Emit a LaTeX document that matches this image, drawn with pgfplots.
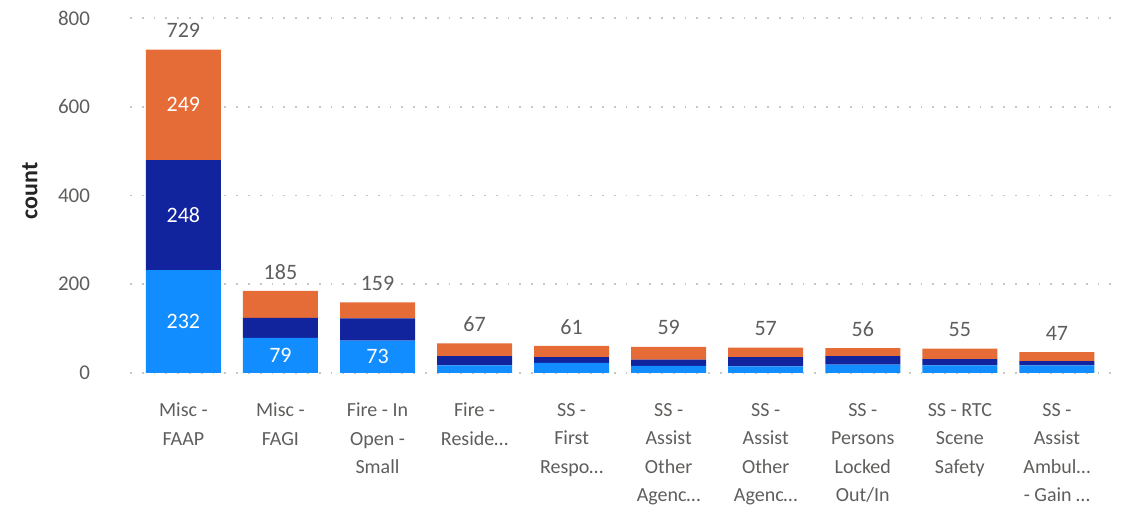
\documentclass[border=0pt]{standalone}
\usepackage{fontspec}
\setmainfont{Carlito}
\usepackage{pgfplots}
\pgfplotsset{compat=1.18}
\usepackage{pgfplotstable}

\definecolor{lblue}{HTML}{118DFF}
\definecolor{dblue}{HTML}{12239E}
\definecolor{orng}{HTML}{E66C37}
\definecolor{txtgray}{HTML}{605E5C}
\definecolor{dark}{HTML}{252423}

% segments: a = bottom (light blue), b = middle (dark blue), c = top (orange), t = total
% la, lb, lc = value shown inside the segment (0 = none)
\pgfplotstableread{
x a b c t la lb lc
0 232 248 249 729 232 248 249
1 79 45 61 185 79 0 0
2 73 50 36 159 73 0 0
3 17 21 29 67 0 0 0
4 23 13 25 61 0 0 0
5 16 14 29 59 0 0 0
6 15 21 21 57 0 0 0
7 19 19 18 56 0 0 0
8 17 14 24 55 0 0 0
9 17 10 20 47 0 0 0
}\data

\pgfplotsset{
  frame/.style={
    at={(65pt,69.5pt)}, anchor=south west,
    scale only axis, width=495pt, height=177.5pt,
    xmin=-0.55, xmax=9.65, ymin=0, ymax=800,
    enlarge y limits=false, clip=false,
    /pgf/number format/assume math mode=true},
  inlbl/.style={
    nodes near coords={\pgfmathfloatifflags{\pgfplotspointmeta}{0}{}{\pgfmathprintnumber{\pgfplotspointmeta}}},
    point meta=explicit,
    every node near coord/.append style={font=\fontsize{11}{13}\selectfont, text=white}},
}

\begin{document}
\begin{tikzpicture}
\useasboundingbox (0,0) rectangle (562pt,256pt);
\begin{axis}[
  frame,
  ybar stacked, bar width=37.5pt,
  ytick={0,200,400,600,800},
  xtick=data,
  xticklabels={
    {Misc -\\FAAP},
    {Misc -\\FAGI},
    {Fire - In\\Open -\\Small},
    {Fire -\\Reside\ldots},
    {SS -\\First\\Respo\ldots},
    {SS -\\Assist\\Other\\Agenc\ldots},
    {SS -\\Assist\\Other\\Agenc\ldots},
    {SS -\\Persons\\Locked\\Out/In},
    {SS - RTC\\Scene\\Safety},
    {SS -\\Assist\\Ambul\ldots\\- Gain \ldots}},
  xticklabel style={align=center, font=\fontsize{10}{14.25}\selectfont, text=txtgray,
    anchor=north, yshift=-11.5pt},
  yticklabel style={font=\fontsize{10.5}{12}\selectfont, text=txtgray, xshift=-16.5pt},
  ylabel={count},
  ylabel style={font=\fontsize{12}{14}\selectfont\bfseries, text=dark,
    at={(axis description cs:-0.101,0.513)}, anchor=center},
  axis line style={draw=none},
  major tick length=0pt,
  ymajorgrids,
  major grid style={gray!45, line width=0.9pt, dash pattern=on 0.9pt off 5pt},
]
\addplot[fill=lblue, draw=none, inlbl] table[x=x, y=a, meta=la] {\data};
\addplot[fill=dblue, draw=none, inlbl] table[x=x, y=b, meta=lb] {\data};
\addplot[fill=orng, draw=none, inlbl] table[x=x, y=c, meta=lc] {\data};
\end{axis}
% totals above each bar, on an overlaid axis with the same frame
\begin{axis}[frame, hide axis]
\addplot[draw=none, mark=none,
  nodes near coords, point meta=explicit,
  every node near coord/.append style={font=\fontsize{11}{13}\selectfont, text=txtgray,
    anchor=center, yshift=9.5pt}]
  table[x=x, y=t, meta=t] {\data};
\end{axis}
\end{tikzpicture}
\end{document}
